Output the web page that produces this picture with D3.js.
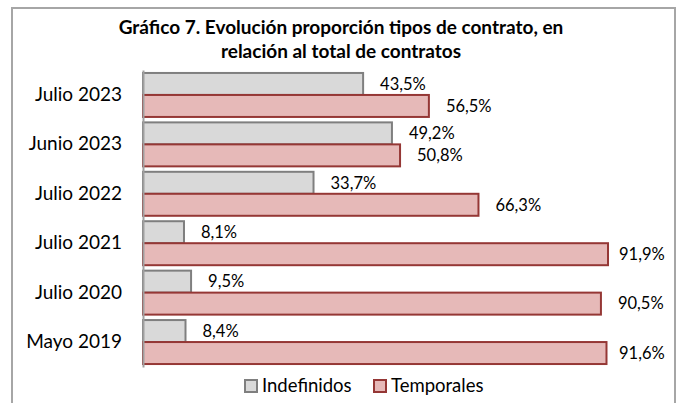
<html>
<script src='https://d3js.org/d3.v7.min.js'></script>
<style>
  body {margin: 0; background: #fff;}
  text {font-family: Lato, 'Open Sans', sans-serif; fill: #000;}
</style>
<body>
<svg width=680 height=403></svg>
<script>
var categories = ["Julio 2023", "Junio 2023", "Julio 2022", "Julio 2021", "Julio 2020", "Mayo 2019"];
var indefinidos = [43.5, 49.2, 33.7, 8.1, 9.5, 8.4];
var temporales = [56.5, 50.8, 66.3, 91.9, 90.5, 91.6];
var seriesNames = ["Indefinidos", "Temporales"];
var titleLines = ["Gráfico 7. Evolución proporción tipos de contrato, en", "relación al total de contratos"];

var fills = {Indefinidos: "#d9d9d9", Temporales: "#e6b9b8"};
var strokes = {Indefinidos: "#7f7f7f", Temporales: "#953735"};

var svg = d3.select("svg");

// outer chart frame
svg.append("rect").attr("x", 12).attr("y", 8).attr("width", 663).attr("height", 420)
   .attr("fill", "none").attr("stroke", "#a6a6a6").attr("stroke-width", 2);

svg.selectAll("text.title").data(titleLines).enter().append("text")
   .attr("class", "title")
   .attr("x", 341).attr("y", function(d, i){ return 34 + i * 24; })
   .attr("text-anchor", "middle")
   .attr("font-size", "19px").attr("font-weight", "bold")
   .text(function(d){ return d; });

var x = d3.scaleLinear().domain([0, 100]).range([143, 649]);
var y = d3.scaleBand().domain(categories).range([70, 367]).paddingInner(0.11).paddingOuter(0.06);
var ySub = d3.scaleBand().domain(seriesNames).range([0, y.bandwidth()]);

var rows = categories.map(function(c, i){
  return {cat: c, vals: [{s: "Indefinidos", v: indefinidos[i]}, {s: "Temporales", v: temporales[i]}]};
});

var g = svg.selectAll("g.row").data(rows).enter().append("g")
   .attr("class", "row")
   .attr("transform", function(d){ return "translate(0," + y(d.cat) + ")"; });

g.selectAll("rect").data(function(d){ return d.vals; }).enter().append("rect")
   .attr("x", x(0))
   .attr("y", function(d){ return ySub(d.s); })
   .attr("width", function(d){ return x(d.v) - x(0); })
   .attr("height", ySub.bandwidth())
   .attr("fill", function(d){ return fills[d.s]; })
   .attr("stroke", function(d){ return strokes[d.s]; })
   .attr("stroke-width", 2);

g.selectAll("text.val").data(function(d){ return d.vals; }).enter().append("text")
   .attr("class", "val")
   .attr("x", function(d){ return Math.min(x(d.v) + 17, 619); })
   .attr("y", function(d){ return ySub(d.s) + ySub.bandwidth() / 2; })
   .attr("dy", "0.35em")
   .attr("font-size", "16.5px")
   .text(function(d){ return d3.format(".1f")(d.v).replace(".", ",") + "%"; });

// category axis
var yAxis = d3.axisLeft(y).tickSize(0).tickPadding(21);
var ax = svg.append("g").attr("transform", "translate(143,0)").call(yAxis);
ax.select(".domain").attr("stroke", "#a0a0a0").attr("stroke-width", 2);
ax.selectAll("text").attr("font-size", "19px").attr("fill", "#000")
   .style("font-family", "Lato, 'Open Sans', sans-serif");

// legend
var legendX = {Indefinidos: 245, Temporales: 374};
var lg = svg.selectAll("g.legend").data(seriesNames).enter().append("g")
   .attr("class", "legend")
   .attr("transform", function(d){ return "translate(" + legendX[d] + ",380)"; });
lg.append("rect").attr("width", 12).attr("height", 12)
   .attr("fill", function(d){ return fills[d]; })
   .attr("stroke", function(d){ return strokes[d]; }).attr("stroke-width", 2);
lg.append("text").attr("x", 17).attr("y", 6).attr("dy", "0.35em")
   .attr("font-size", "18.5px").text(function(d){ return d; });
</script>
</body>
</html>
